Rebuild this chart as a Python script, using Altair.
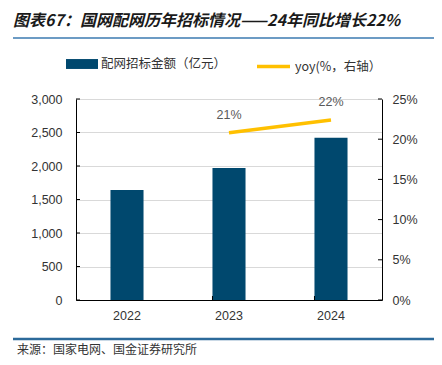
import altair as alt
import pandas as pd

years = ["2022", "2023", "2024"]
amount = [1640, 1970, 2420]
yoy_years = ["2023", "2024"]
yoy = [0.208, 0.224]
yoy_labels = ["21%", "22%"]
left_ticks = [0, 500, 1000, 1500, 2000, 2500, 3000]
right_ticks = [0, 0.05, 0.10, 0.15, 0.20, 0.25]
boundary_years = ["2023", "2024"]

title_text = "图表67：国网配网历年招标情况——24年同比增长22%"
source_text = "来源：国家电网、国金证券研究所"
bar_name = "配网招标金额（亿元）"
line_name = "yoy(%，右轴）"

W, H = 306, 201
CJK = "Noto Sans CJK SC"
NUM = "Liberation Sans"

bar_df = pd.DataFrame({"year": years, "amount": amount, "series": [bar_name] * 3})
line_df = pd.DataFrame({"year": yoy_years, "yoy": yoy, "label": yoy_labels,
                        "series": [line_name] * 2})
lt_df = pd.DataFrame({"amount": left_ticks})
rt_df = pd.DataFrame({"yoy": right_ticks})
bt_df = pd.DataFrame({"year": boundary_years})

xscale = alt.Scale(domain=years, paddingInner=0.676, paddingOuter=0.338)
xaxis = alt.Axis(title=None, labelAngle=0, ticks=False, grid=False, domainColor="#000000",
                 labelPadding=9, labelFont=NUM, labelFontSize=12.5, labelColor="#333333")

yl_scale = alt.Scale(domain=[0, 3000], nice=False)
yr_scale = alt.Scale(domain=[0, 0.25], nice=False)
yl_axis = alt.Axis(title=None, values=left_ticks, format=",.0f", ticks=False,
                   domainColor="#000000", gridColor="#d9d9d9", labelPadding=14,
                   labelFont=NUM, labelFontSize=12.5, labelColor="#333333")
yr_axis = alt.Axis(title=None, orient="right", values=right_ticks, format=".0%",
                   ticks=False, grid=False, domainColor="#000000", labelPadding=10,
                   labelFont=NUM, labelFontSize=12.5, labelColor="#333333")

bars = alt.Chart(bar_df).mark_bar(color="#00486E").encode(
    x=alt.X("year:N", scale=xscale, axis=xaxis),
    y=alt.Y("amount:Q", scale=yl_scale, axis=yl_axis),
    color=alt.Color("series:N", scale=alt.Scale(range=["#00486E"]),
                    legend=alt.Legend(orient="none", legendX=-10, legendY=-51, title=None,
                                      symbolType="M-1,-0.31H1V0.31H-1Z", symbolSize=1024,
                                      symbolStrokeWidth=0, labelFont=CJK, labelFontSize=12.5,
                                      labelColor="#333333", labelOffset=3, padding=0)),
)

left_ticks_rule = alt.Chart(lt_df).mark_rule(color="#000000", strokeWidth=1).encode(
    y=alt.Y("amount:Q", scale=yl_scale, axis=yl_axis), x=alt.value(0), x2=alt.value(4)
)

bottom_ticks_rule = alt.Chart(bt_df).mark_rule(color="#000000", strokeWidth=1).encode(
    x=alt.X("year:N", bandPosition=0, scale=xscale, axis=xaxis), y=alt.value(H), y2=alt.value(H - 4)
)

left_layer = alt.layer(bars, left_ticks_rule, bottom_ticks_rule)

line = alt.Chart(line_df).mark_line(strokeWidth=3.5).encode(
    x=alt.X("year:N", scale=xscale, axis=xaxis),
    y=alt.Y("yoy:Q", scale=yr_scale, axis=yr_axis),
    stroke=alt.Stroke("series:N", scale=alt.Scale(range=["#FFC000"]),
                      legend=alt.Legend(orient="none", legendX=179, legendY=-51, title=None,
                                        symbolType="stroke", symbolSize=1089,
                                        symbolStrokeWidth=3.5, labelFont=CJK,
                                        labelFontSize=12.5, labelColor="#333333",
                                        labelOffset=3, padding=0)),
)

labels = alt.Chart(line_df).mark_text(dy=-18, font=NUM, fontSize=12.5, color="#595959").encode(
    x=alt.X("year:N", scale=xscale, axis=xaxis),
    y=alt.Y("yoy:Q", scale=yr_scale, axis=yr_axis), text="label:N"
)

right_ticks_rule = alt.Chart(rt_df).mark_rule(color="#000000", strokeWidth=1).encode(
    y=alt.Y("yoy:Q", scale=yr_scale, axis=yr_axis), x=alt.value(W - 4), x2=alt.value(W)
)

right_layer = alt.layer(line, labels, right_ticks_rule)

one = pd.DataFrame({"t": [title_text], "s": [source_text]})
title_mark = alt.Chart(one).mark_text(align="left", baseline="middle", font=CJK, fontSize=16,
                                      fontStyle="italic", fontWeight="bold",
                                      color="#1a1a1a").encode(
    x=alt.value(-63), y=alt.value(-78), text="t:N")
top_rule = alt.Chart(one).mark_rule(color="#6C9BC4", strokeWidth=2).encode(
    x=alt.value(-63), x2=alt.value(358), y=alt.value(-61))
bottom_rule = alt.Chart(one).mark_rule(color="#2C6A9A", strokeWidth=2.5).encode(
    x=alt.value(-63), x2=alt.value(358), y=alt.value(240))
source_mark = alt.Chart(one).mark_text(align="left", baseline="middle", font=CJK, fontSize=12,
                                       color="#333333").encode(
    x=alt.value(-59), y=alt.value(251), text="s:N")

chart = alt.layer(left_layer, right_layer, title_mark, top_rule, bottom_rule, source_mark).resolve_scale(
    y="independent"
).properties(
    width=W, height=H,
    autosize=alt.AutoSizeParams(type="none"),
    padding={"left": 68, "top": 91, "right": 52, "bottom": 57},
).configure_view(stroke=None).configure_legend(symbolOpacity=1)

chart.save("out.html", embed_options={"renderer": "svg", "actions": False})
